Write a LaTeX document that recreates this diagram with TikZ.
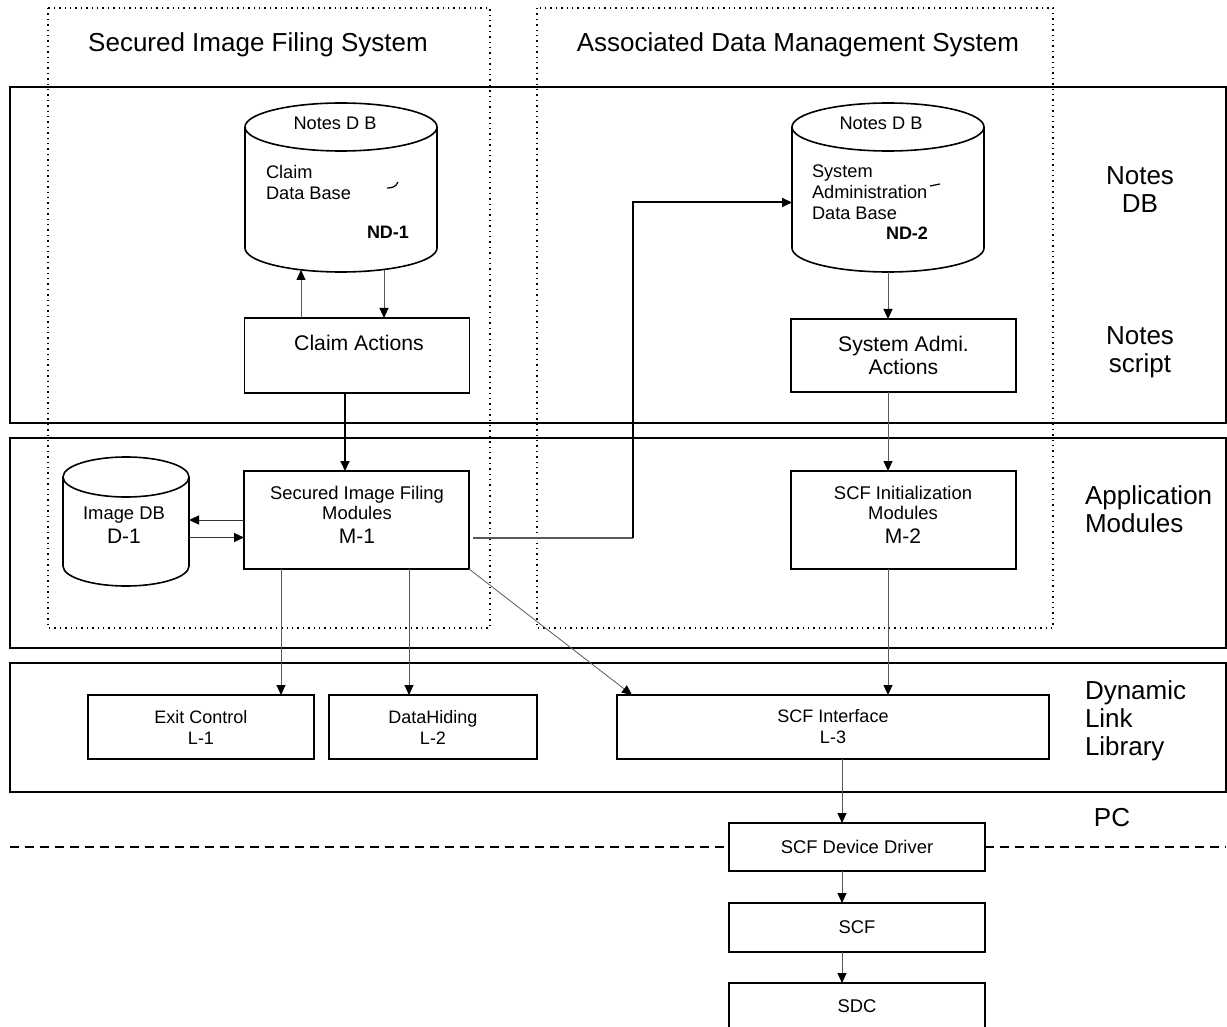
\documentclass[tikz,border=0pt]{standalone}
\usepackage{fontspec}
\setmainfont{Liberation Sans}
\usetikzlibrary{arrows.meta,calc}
\newcommand{\fsz}[2]{\fontsize{#1}{#2}\selectfont}
\newcommand{\dbcyl}[3]{%
  \draw[cylline] ($(#1.north west)+(0pt,-#3)$) -- ($(#1.south west)+(0pt,#3)$)
    arc[start angle=180,end angle=360,x radius=#2,y radius=#3]
    -- ($(#1.north east)+(0pt,-#3)$)
    arc[start angle=0,end angle=180,x radius=#2,y radius=#3]
    arc[start angle=180,end angle=360,x radius=#2,y radius=#3];}
\begin{document}
\begin{tikzpicture}[x=0.5pt,y=0.5pt,
  every node/.style={inner sep=0pt, outer sep=0pt},
  layer/.style={draw, line width=1pt},
  sysarea/.style={draw, dotted, line width=0.7pt},
  blk/.style={draw, line width=0.8pt, rectangle, align=center, font=\fsz{9.2}{10.5}},
  cylbase/.style={rectangle, draw=none},
  cylline/.style={line width=0.8pt},
  tip/.style={-{Triangle[length=5pt,width=4.5pt,color=black]}},
  conn/.style={draw=black!65, line width=0.5pt, tip},
  strong/.style={draw=black, line width=1pt},
  lbl/.style={font=\fsz{13}{14}, align=center},
  cyltxt/.style={font=\fsz{9.1}{10.5}, align=left}
]
\useasboundingbox (0,0) rectangle (1227,-1027);
\clip (0,0) rectangle (1227,-1027);

% layers
\draw[layer] (10,-87) rectangle (1226,-423);
\draw[layer] (10,-438) rectangle (1226,-648);
\draw[layer] (10,-663) rectangle (1226,-792);

% system areas
\draw[sysarea] (48,-8) rectangle (490,-628);
\draw[sysarea] (537,-8) rectangle (1053,-628);
\node[lbl] (t1) at (258,-45) {Secured Image Filing System};
\node[lbl] (t2) at (798,-45) {Associated Data Management System};

% right labels
\node[lbl] (l1) at (1140,-190) {\fsz{13}{12.5}Notes\\DB};
\node[lbl] (l2) at (1140,-352) {\fsz{13}{14}Notes\\script};
\node[lbl, align=left, anchor=west] (l3) at (1085,-509) {\fsz{13}{12}Application\\Modules};
\node[lbl, align=left, anchor=west] (l4) at (1085,-721) {\fsz{13}{15.5}Dynamic\\Link\\Library};
\node[lbl] (l5) at (1112,-818) {PC};

% ND-1
\node[cylbase, minimum width=96pt, minimum height=84.5pt] (nd1) at (341,-187.5) {};
\dbcyl{nd1}{48pt}{12pt}
\node[font=\fsz{9.1}{10}] (nd1a) at (335,-123) {Notes D B};
\node[cyltxt, anchor=west] (nd1b) at (266,-182) {Claim\\Data Base};
\node[font=\bfseries\fsz{9}{10}] (nd1c) at (388,-232) {ND-1};
\draw[line width=0.6pt] (387,-188) .. controls (392,-188) and (396,-187) .. (398,-182);

% ND-2
\node[cylbase, minimum width=96pt, minimum height=84.5pt] (nd2) at (888,-187.5) {};
\dbcyl{nd2}{48pt}{12pt}
\node[font=\fsz{9.1}{10}] (nd2a) at (881,-123) {Notes D B};
\node[cyltxt, anchor=west] (nd2b) at (812,-192) {\fsz{9.1}{10.7}System\\Administration\\Data Base};
\node[font=\bfseries\fsz{9}{10}] (nd2c) at (907,-233) {ND-2};
\draw[line width=0.6pt] (930,-186) -- (940,-184);

% Notes script boxes
\node[blk, minimum width=112.5pt, minimum height=37.5pt] (ca) at (357,-355.5) {};
\node[font=\fsz{10.6}{12}] (cat) at (359,-343) {Claim Actions};
\node[blk, minimum width=112.5pt, minimum height=36.5pt, font=\fsz{10.6}{11.5}] (sa) at (903.5,-355.5) {System Admi.\\Actions};

% Application modules
\node[cylbase, minimum width=63pt, minimum height=64.5pt] (imgdb) at (126,-521.5) {};
\dbcyl{imgdb}{31.5pt}{10pt}
\node[font=\fsz{9.2}{10}, align=center] (imgdbt) at (124,-525) {Image DB\\[2pt]{\fsz{10.5}{12}D-1}};
\node[blk, minimum width=112.5pt, minimum height=49pt] (m1) at (356.5,-520) {};
\node[font=\fsz{9.2}{10}, align=center] (m1t) at (357,-515) {Secured Image Filing\\Modules\\[2pt]{\fsz{10.5}{12}M-1}};
\node[blk, minimum width=112.5pt, minimum height=49pt] (m2) at (903.5,-520) {};
\node[font=\fsz{9.2}{10}, align=center] (m2t) at (903,-515) {SCF Initialization\\Modules\\[2pt]{\fsz{10.5}{12}M-2}};

% DLL
\node[blk, minimum width=113pt, minimum height=32pt, font=\fsz{9}{10.5}] (exitc) at (201,-727) {Exit Control\\L-1};
\node[blk, minimum width=104pt, minimum height=32pt, font=\fsz{9}{10.5}] (datah) at (433,-727) {DataHiding\\L-2};
\node[blk, minimum width=216pt, minimum height=32pt, font=\fsz{9}{10.5}] (scfi) at (833,-727) {SCF Interface\\L-3};

% PC side
\node[blk, minimum width=128pt, minimum height=24pt] (dd) at (857,-847) {SCF Device Driver};
\node[blk, minimum width=128pt, minimum height=24.5pt] (scf) at (857,-927.5) {SCF};
\node[blk, minimum width=128pt, minimum height=28.5pt] (sdc) at (857,-1011.5) {};
\node[font=\fsz{9.2}{10}] (sdct) at (857,-1006) {SDC};

\draw[line width=0.6pt, dash pattern=on 4.5pt off 3pt] (10,-847) -- (dd.west);
\draw[line width=0.6pt, dash pattern=on 4.5pt off 3pt] (dd.east) -- (1226,-847);

% connectors
\draw[conn] ($(ca.north)+(-56,0)$) -- ($(nd1.south)+(-40,2)$);
\draw[conn] ($(nd1.south)+(43,2)$) -- ($(ca.north)+(27,0)$);
\draw[strong, tip] ($(ca.south)+(-12,0)$) -- ($(m1.north)+(-11.5,0)$);
\draw[conn] (nd2.south) -- (nd2.south |- sa.north);
\draw[conn] (sa.south -| nd2.south) -- (m2.north -| nd2.south);
\draw[conn] (m2.south -| nd2.south) -- (scfi.north -| nd2.south);

\draw[conn, draw=black!80] (m1.west) -- (m1.west -| imgdb.east);
\coordinate (a1) at ($(imgdb.east)+(0,-16)$);
\draw[conn, draw=black!80] (a1) -- (a1 -| m1.west);

\coordinate (b0) at ($(m1.east)+(4,-18)$);
\coordinate (b1) at ($(b0)+(160,0)$);
\coordinate (b2) at ($(nd2.west)+(0,-15)$);
\draw[draw=black!65, line width=0.6pt] (b0) -- (b1);
\draw[strong, tip] (b1) |- (b2);

\coordinate (c1) at ($(m1.south)+(-75.5,0)$);
\draw[conn] (c1) -- (c1 |- exitc.north);
\coordinate (c2) at ($(m1.south)+(52.5,0)$);
\draw[conn] (c2) -- (c2 |- datah.north);
\draw[conn, line width=0.4pt] (m1.south east) -- ($(scfi.north west)+(15,0)$);

\coordinate (c3) at ($(scfi.south)+(9,0)$);
\draw[conn] (c3) -- (c3 |- dd.north);
\coordinate (c4) at ($(dd.south)+(-15,0)$);
\draw[conn] (c4) -- (c4 |- scf.north);
\coordinate (c5) at ($(scf.south)+(-15,0)$);
\draw[conn] (c5) -- (c5 |- sdc.north);
\end{tikzpicture}
\end{document}
